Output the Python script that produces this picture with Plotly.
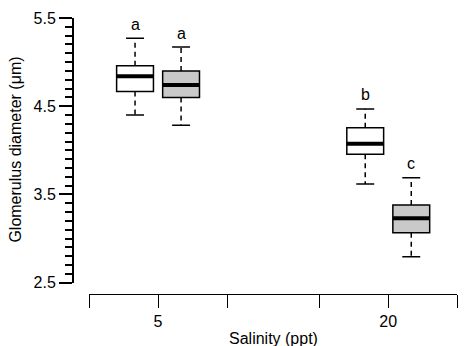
import plotly.graph_objects as go

# ---- data ----
salinity_labels = ["5", "20"]
group_centers = [1.0, 2.0]
# boxes in order: (5 ppt, white), (5 ppt, gray), (20 ppt, white), (20 ppt, gray)
box_group = [0, 0, 1, 1]
box_side = [-1, 1, -1, 1]
upper_whisker = [5.27, 5.17, 4.47, 3.69]
q3_vals = [4.96, 4.90, 4.255, 3.38]
median_vals = [4.84, 4.74, 4.075, 3.23]
q1_vals = [4.667, 4.60, 3.955, 3.065]
lower_whisker = [4.40, 4.285, 3.62, 2.795]
letters = ["a", "a", "b", "c"]
box_fills = ["#ffffff", "#c9c9c9", "#ffffff", "#c9c9c9"]

y_tickvals = [2.5, 3.0, 3.5, 4.0, 4.5, 5.0, 5.5]
y_ticktext = ["2.5", "", "3.5", "", "4.5", "", "5.5"]
x_tickvals = [0.7, 1.0, 1.3, 1.7, 2.0, 2.3]
x_ticktext = ["", "5", "", "", "20", ""]

# ---- styling / geometry ----
FONT = "Liberation Sans, Arial, Helvetica, sans-serif"
W, H = 468, 346
ML, MR, MT, MB = 73, 10, 13, 52
PW, PH = W - ML - MR, H - MT - MB
offset = 0.1
box_w = 0.16
cap_half = 0.039

xpos = [group_centers[g] + s * offset for g, s in zip(box_group, box_side)]

fig = go.Figure()

for i, x in enumerate(xpos):
    fig.add_trace(go.Box(
        x=[x], q1=[q1_vals[i]], median=[median_vals[i]], q3=[q3_vals[i]],
        lowerfence=[q1_vals[i]], upperfence=[q3_vals[i]],
        width=box_w, whiskerwidth=0, fillcolor=box_fills[i],
        line=dict(color="black", width=1.5), boxpoints=False,
        showlegend=False, hoverinfo="skip",
    ))

# dashed whiskers
wx, wy = [], []
for i, x in enumerate(xpos):
    wx += [x, x, None, x, x, None]
    wy += [q3_vals[i], upper_whisker[i], None, q1_vals[i], lower_whisker[i], None]
fig.add_trace(go.Scatter(x=wx, y=wy, mode="lines",
                         line=dict(color="black", width=1.5, dash="5px,4px"),
                         showlegend=False, hoverinfo="skip"))
# caps
cx, cy = [], []
for i, x in enumerate(xpos):
    for v in (upper_whisker[i], lower_whisker[i]):
        cx += [x - cap_half, x + cap_half, None]
        cy += [v, v, None]
fig.add_trace(go.Scatter(x=cx, y=cy, mode="lines",
                         line=dict(color="black", width=1.5),
                         showlegend=False, hoverinfo="skip"))
# medians
mx, my = [], []
for i, x in enumerate(xpos):
    mx += [x - box_w / 2, x + box_w / 2, None]
    my += [median_vals[i], median_vals[i], None]
fig.add_trace(go.Scatter(x=mx, y=my, mode="lines",
                         line=dict(color="black", width=4),
                         showlegend=False, hoverinfo="skip"))

annotations = []
for i, x in enumerate(xpos):
    annotations.append(dict(x=x, y=upper_whisker[i], xref="x", yref="y",
                            text=letters[i], showarrow=False, yanchor="middle",
                            yshift=14, font=dict(family=FONT, size=16, color="black")))

x_dom = [(89 - ML) / PW, (457.3 - ML) / PW]
y_dom = [(H - MB - 282.5) / PH, 1.0]

annotations.append(dict(x=(x_dom[0] + x_dom[1]) / 2, y=(H - MB - 339) / PH,
                        xref="paper", yref="paper", text="Salinity (ppt)",
                        showarrow=False, xanchor="center", yanchor="middle",
                        font=dict(family=FONT, size=16, color="black")))
annotations.append(dict(x=(16 - ML) / PW, y=(H - MB - 147) / PH,
                        xref="paper", yref="paper", text="Glomerulus diameter (μm)",
                        textangle=-90, showarrow=False, xanchor="center", yanchor="middle",
                        font=dict(family=FONT, size=16, color="black")))

fig.update_layout(
    width=W, height=H,
    margin=dict(l=ML, r=MR, t=MT, b=MB),
    paper_bgcolor="white", plot_bgcolor="white",
    font=dict(family=FONT, size=16, color="black"),
    annotations=annotations,
    xaxis=dict(range=[0.7, 2.3], domain=x_dom, anchor="free", position=0,
               showline=True, linecolor="black", linewidth=1.3,
               ticks="outside", ticklen=13, tickwidth=1.3, tickcolor="black",
               tickvals=x_tickvals, ticktext=x_ticktext, ticklabelstandoff=0,
               showgrid=False, zeroline=False, fixedrange=True),
    yaxis=dict(range=[2.5, 5.5], domain=y_dom, anchor="free", position=0,
               showline=True, linecolor="black", linewidth=2,
               ticks="outside", ticklen=13, tickwidth=2, tickcolor="black",
               tickvals=y_tickvals, ticktext=y_ticktext,
               minor=dict(tickvals=[round(2.5 + 0.1 * k, 1) for k in range(31)],
                          ticks="outside", ticklen=7, tickwidth=2, tickcolor="black",
                          showgrid=False),
               showgrid=False, zeroline=False, fixedrange=True),
)

fig.write_html("out.html", config={"displayModeBar": False})
